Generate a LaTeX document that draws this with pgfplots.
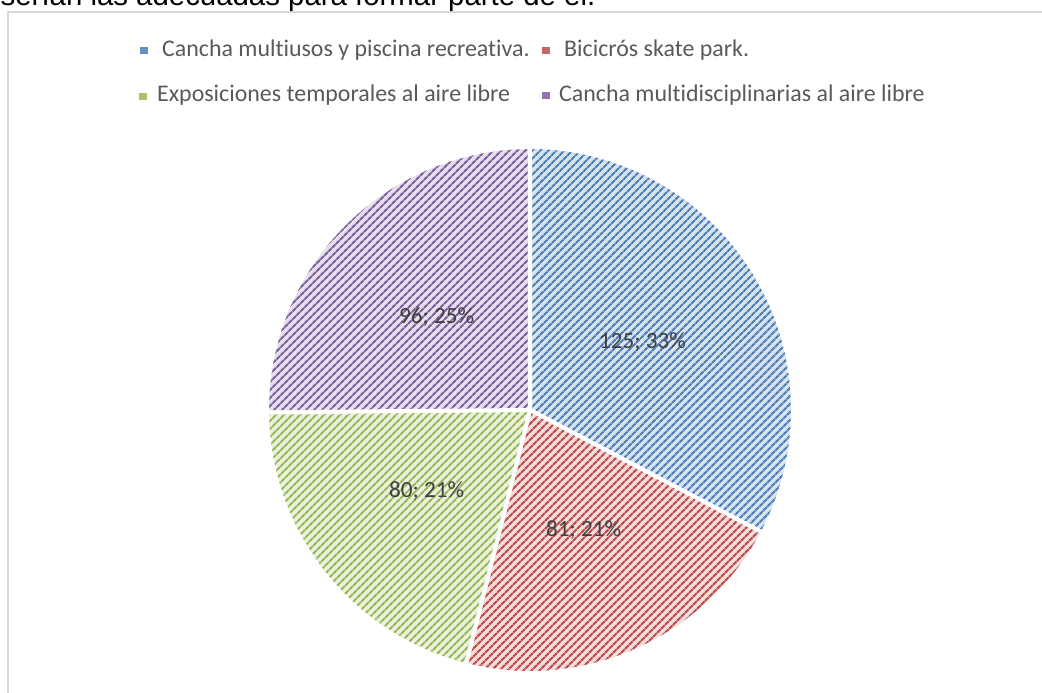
\documentclass[border=0pt]{standalone}
\usepackage{pgfplots}
\pgfplotsset{compat=1.18}
\usepackage{pgfplotstable}
\usepackage{fontspec}
\setmainfont{Carlito}[Ligatures=NoCommon]
\newfontfamily\arialfont{Liberation Sans}
\usetikzlibrary{patterns.meta}

\definecolor{blueL}{HTML}{DAE4F1}\definecolor{blueD}{HTML}{4F81BD}
\definecolor{redL}{HTML}{F2DCDB}\definecolor{redD}{HTML}{C0504D}
\definecolor{greenL}{HTML}{EBF1DE}\definecolor{greenD}{HTML}{9BBB59}
\definecolor{purpleL}{HTML}{E5E0EC}\definecolor{purpleD}{HTML}{8064A2}
\definecolor{legtext}{HTML}{595959}
\definecolor{labtext}{HTML}{404040}
\definecolor{framec}{HTML}{D9D9D9}

\pgfplotstableread{
name value
blue 125
red 81
green 80
purple 96
}\piedata

\newcommand\labfont{\fontsize{23.3}{27}\selectfont}
\newcommand\legfont{\fontsize{24}{28}\selectfont}

\begin{document}
\begin{tikzpicture}
% total of the values
\def\total{0}
\pgfplotsforeachungrouped \i in {0,...,3}{%
  \pgfplotstablegetelem{\i}{value}\of\piedata
  \pgfmathsetmacro\total{\total+\pgfplotsretval}%
}
\begin{axis}[at={(0,0)},anchor=south west,scale only axis,
  width=1042bp,height=693bp,xmin=0,xmax=1042,ymin=0,ymax=693,
  enlargelimits=false,hide axis,clip=false]
  % frame
  \draw[framec,line width=2bp] (axis cs:7.7,-20) -- (axis cs:7.7,681) -- (axis cs:1070,681);
  % slices
  \def\cur{90}
  \pgfplotsforeachungrouped \i in {0,...,3}{%
    \pgfplotstablegetelem{\i}{value}\of\piedata
    \let\v\pgfplotsretval
    \pgfmathsetmacro\ang{\v/\total*360}%
    \pgfmathsetmacro\nxt{\cur-\ang}%
    \pgfmathsetmacro\mid{\cur-\ang/2}%
    \pgfmathsetmacro\xs{530+263*cos(\cur)}%
    \pgfmathsetmacro\ys{283+263*sin(\cur)}%
    \pgfmathsetmacro\xl{530+131.5*cos(\mid)}%
    \pgfmathsetmacro\yl{283+131.5*sin(\mid)}%
    \pgfmathtruncatemacro\pct{round(100*\v/\total)}%
    \ifcase\i \def\cL{blueL}\def\cD{blueD}%
    \or \def\cL{redL}\def\cD{redD}%
    \or \def\cL{greenL}\def\cD{greenD}%
    \or \def\cL{purpleL}\def\cD{purpleD}\fi
    \edef\temp{%
      \noexpand\fill[fill=\cL,postaction={pattern={Lines[angle=45,distance=6bp,line width=2.4bp]},pattern color=\cD}]
        (axis cs:530,283) -- (axis cs:\xs,\ys) arc[start angle=\cur,end angle=\nxt,radius=263bp] -- cycle;
      \noexpand\draw[white,line width=4bp,line join=round]
        (axis cs:530,283) -- (axis cs:\xs,\ys) arc[start angle=\cur,end angle=\nxt,radius=263bp] -- cycle;
    }\temp
    \edef\temp{%
      \noexpand\node[text=labtext,font=\noexpand\labfont,inner sep=0pt] at (axis cs:\xl,\yl) {\v; \pct\noexpand\%};
    }\temp
    \let\cur\nxt
  }
  % legend
  \fill[blueD!85!blueL] (axis cs:140,639) rectangle (axis cs:148,646);
  \node[anchor=base west,inner sep=0pt,text=legtext,font=\legfont] at (axis cs:162,636) {Cancha multiusos y piscina recreativa.};
  \fill[redD!85!redL] (axis cs:542,639) rectangle (axis cs:550,646);
  \node[anchor=base west,inner sep=0pt,text=legtext,font=\legfont] at (axis cs:564,636) {Bicicrós skate park.};
  \fill[greenD!85!greenL] (axis cs:139,593) rectangle (axis cs:147,600);
  \node[anchor=base west,inner sep=0pt,text=legtext,font=\legfont] at (axis cs:157,591) {Exposiciones temporales al aire libre};
  \fill[purpleD!85!purpleL] (axis cs:542,594) rectangle (axis cs:550,601);
  \node[anchor=base west,inner sep=0pt,text=legtext,font=\legfont] at (axis cs:559,591) {Cancha multidisciplinarias al aire libre};
  % cut-off text above the chart
  \node[anchor=base west,inner sep=0pt,font=\arialfont\fontsize{29.5}{34}\selectfont] at (axis cs:0.5,687) {serían las adecuadas para formar parte de él.};
\end{axis}
\pgfresetboundingbox
\useasboundingbox (0bp,0bp) rectangle (1042bp,693bp);
\end{tikzpicture}
\end{document}
